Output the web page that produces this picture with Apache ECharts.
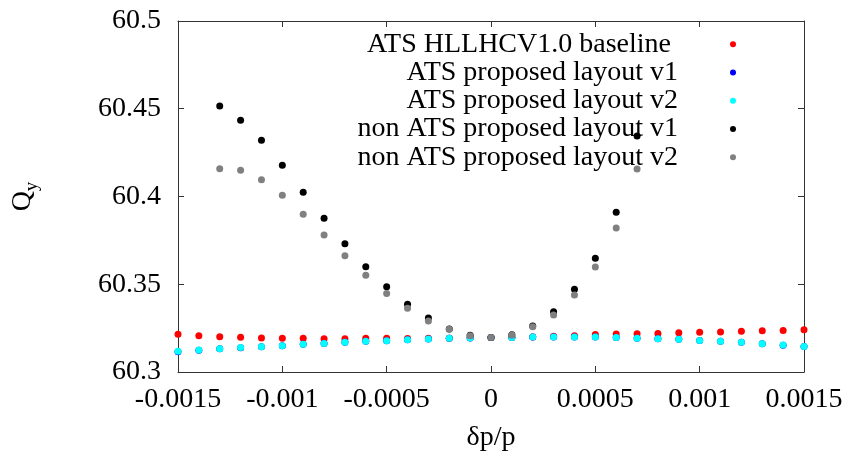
<!DOCTYPE html>
<html>
<head>
<meta charset="utf-8">
<title>Qy vs momentum deviation</title>
<script src="https://cdn.jsdelivr.net/npm/echarts@6/dist/echarts.min.js"></script>
<style>
  html, body { margin: 0; padding: 0; background: #ffffff; }
  #chart { width: 862px; height: 459px; }
</style>
</head>
<body>
<div id="chart"></div>
<script>
// Momentum deviation dp/p for the ATS layouts
const dp = [
  -0.0015, -0.0014, -0.0013, -0.0012, -0.0011, -0.0010, -0.0009, -0.0008,
  -0.0007, -0.0006, -0.0005, -0.0004, -0.0003, -0.0002, -0.0001, 0.0,
  0.0001, 0.0002, 0.0003, 0.0004, 0.0005, 0.0006, 0.0007, 0.0008,
  0.0009, 0.0010, 0.0011, 0.0012, 0.0013, 0.0014, 0.0015
];
// Momentum deviation for the non-ATS layouts
const dpNonAts = [
  -0.0013, -0.0012, -0.0011, -0.0010, -0.0009, -0.0008, -0.0007, -0.0006,
  -0.0005, -0.0004, -0.0003, -0.0002, -0.0001, 0.0, 0.0001, 0.0002,
  0.0003, 0.0004, 0.0005, 0.0006, 0.0007
];

const qyBaseline = [
  60.3215, 60.3207, 60.3201, 60.3198, 60.3194, 60.3192, 60.3192, 60.3190,
  60.3190, 60.3192, 60.3192, 60.3191, 60.3192, 60.3193, 60.3195, 60.3196,
  60.3198, 60.3200, 60.3204, 60.3207, 60.3213, 60.3217, 60.3218, 60.3220,
  60.3224, 60.3226, 60.3228, 60.3232, 60.3235, 60.3237, 60.3241
];
const qyAtsV1 = [
  60.3116, 60.3124, 60.3132, 60.3138, 60.3144, 60.3150, 60.3158, 60.3163,
  60.3169, 60.3175, 60.3178, 60.3184, 60.3188, 60.3192, 60.3194, 60.3196,
  60.3196, 60.3199, 60.3199, 60.3199, 60.3199, 60.3196, 60.3192, 60.3190,
  60.3186, 60.3180, 60.3175, 60.3169, 60.3161, 60.3153, 60.3145
];
const qyAtsV2 = [
  60.3118, 60.3125, 60.3133, 60.3139, 60.3144, 60.3150, 60.3158, 60.3163,
  60.3169, 60.3175, 60.3178, 60.3184, 60.3188, 60.3192, 60.3194, 60.3196,
  60.3196, 60.3199, 60.3199, 60.3199, 60.3199, 60.3196, 60.3192, 60.3190,
  60.3186, 60.3180, 60.3175, 60.3169, 60.3161, 60.3154, 60.3146
];
const qyNonAtsV1 = [
  60.4516, 60.4434, 60.4320, 60.4178, 60.4024, 60.3876, 60.3731, 60.3600,
  60.3486, 60.3386, 60.3308, 60.3245, 60.3209, 60.3197, 60.3212, 60.3262,
  60.3344, 60.3471, 60.3648, 60.3910, 60.4345
];
const qyNonAtsV2 = [
  60.4158, 60.4149, 60.4096, 60.4007, 60.3899, 60.3780, 60.3663, 60.3551,
  60.3448, 60.3363, 60.3291, 60.3243, 60.3207, 60.3196, 60.3211, 60.3258,
  60.3325, 60.3439, 60.3598, 60.3820, 60.4157
];

const seriesNames = [
  'ATS HLLHCV1.0 baseline ',
  'ATS proposed layout v1',
  'ATS proposed layout v2',
  'non ATS proposed layout v1',
  'non ATS proposed layout v2'
];
const seriesColors = ['#ff0000', '#0000ff', '#00ffff', '#000000', '#808080'];

const xTickLabels = ['-0.0015', '-0.001', '-0.0005', '0', '0.0005', '0.001', '0.0015'];
const yTickLabels = ['60.3', '60.35', '60.4', '60.45', '60.5'];

const X_MIN = -0.0015, X_MAX = 0.0015, X_STEP = 0.0005;
const Y_MIN = 60.3, Y_MAX = 60.5, Y_STEP = 0.05;

const FONT = '"Liberation Serif", "DejaVu Serif", serif';
const FRAME = '#333333';

function pairs(xs, ys) { return xs.map((x, i) => [x, ys[i]]); }

const chart = echarts.init(document.getElementById('chart'), null, { renderer: 'canvas' });

const frameAxisLine = { show: true, onZero: false, lineStyle: { color: FRAME, width: 1 } };
const innerTicks = { show: true, inside: true, length: 6, lineStyle: { color: FRAME, width: 1 } };

const option = {
  backgroundColor: '#ffffff',
  animation: false,
  grid: { left: 178, right: 58, top: 21, bottom: 87, containLabel: false },
  xAxis: [
    {
      type: 'value', min: X_MIN, max: X_MAX, interval: X_STEP,
      position: 'bottom',
      name: 'δp/p', nameLocation: 'middle', nameGap: 52,
      nameTextStyle: { fontFamily: FONT, fontSize: 28, color: '#000' },
      axisLine: frameAxisLine, axisTick: innerTicks, splitLine: { show: false },
      axisLabel: {
        margin: 14, fontFamily: FONT, fontSize: 28, color: '#000',
        formatter: v => xTickLabels[Math.round((v - X_MIN) / X_STEP)]
      }
    },
    {
      type: 'value', min: X_MIN, max: X_MAX, interval: X_STEP,
      position: 'top',
      axisLine: frameAxisLine, axisTick: innerTicks,
      axisLabel: { show: false }, splitLine: { show: false }
    }
  ],
  yAxis: [
    {
      type: 'value', min: Y_MIN, max: Y_MAX, interval: Y_STEP,
      position: 'left',
      name: '{q|Q}{s|y}', nameLocation: 'middle', nameGap: 136, nameRotate: 90,
      nameTextStyle: {
        color: '#000',
        rich: {
          q: { fontFamily: FONT, fontSize: 28, color: '#000', verticalAlign: 'top' },
          s: { fontFamily: FONT, fontSize: 19, color: '#000', verticalAlign: 'top', padding: [14, 0, 0, 0] }
        }
      },
      axisLine: frameAxisLine, axisTick: innerTicks, splitLine: { show: false },
      axisLabel: {
        margin: 17, fontFamily: FONT, fontSize: 28, color: '#000',
        formatter: v => yTickLabels[Math.round((v - Y_MIN) / Y_STEP)]
      }
    },
    {
      type: 'value', min: Y_MIN, max: Y_MAX, interval: Y_STEP,
      position: 'right',
      axisLine: frameAxisLine, axisTick: innerTicks,
      axisLabel: { show: false }, splitLine: { show: false }
    }
  ],
  legend: {
    orient: 'vertical', right: 121, top: 25,
    align: 'right', icon: 'circle',
    itemWidth: 100, itemHeight: 6, itemGap: 0,
    textStyle: { fontFamily: FONT, fontSize: 28, color: '#000', lineHeight: 28.3, width: 340, align: 'right' },
    data: seriesNames.map((n, i) => ({ name: n, itemStyle: { color: seriesColors[i] } }))
  },
  series: [
    [dp, qyBaseline],
    [dp, qyAtsV1],
    [dp, qyAtsV2],
    [dpNonAts, qyNonAtsV1],
    [dpNonAts, qyNonAtsV2]
  ].map(([xs, ys], i) => ({
    name: seriesNames[i],
    type: 'scatter',
    xAxisIndex: 0, yAxisIndex: 0,
    symbol: 'circle', symbolSize: 7,
    itemStyle: { color: seriesColors[i], opacity: 1 },
    emphasis: { disabled: true },
    z: 2 + i,
    data: pairs(xs, ys)
  }))
};

chart.setOption(option);
</script>
</body>
</html>
